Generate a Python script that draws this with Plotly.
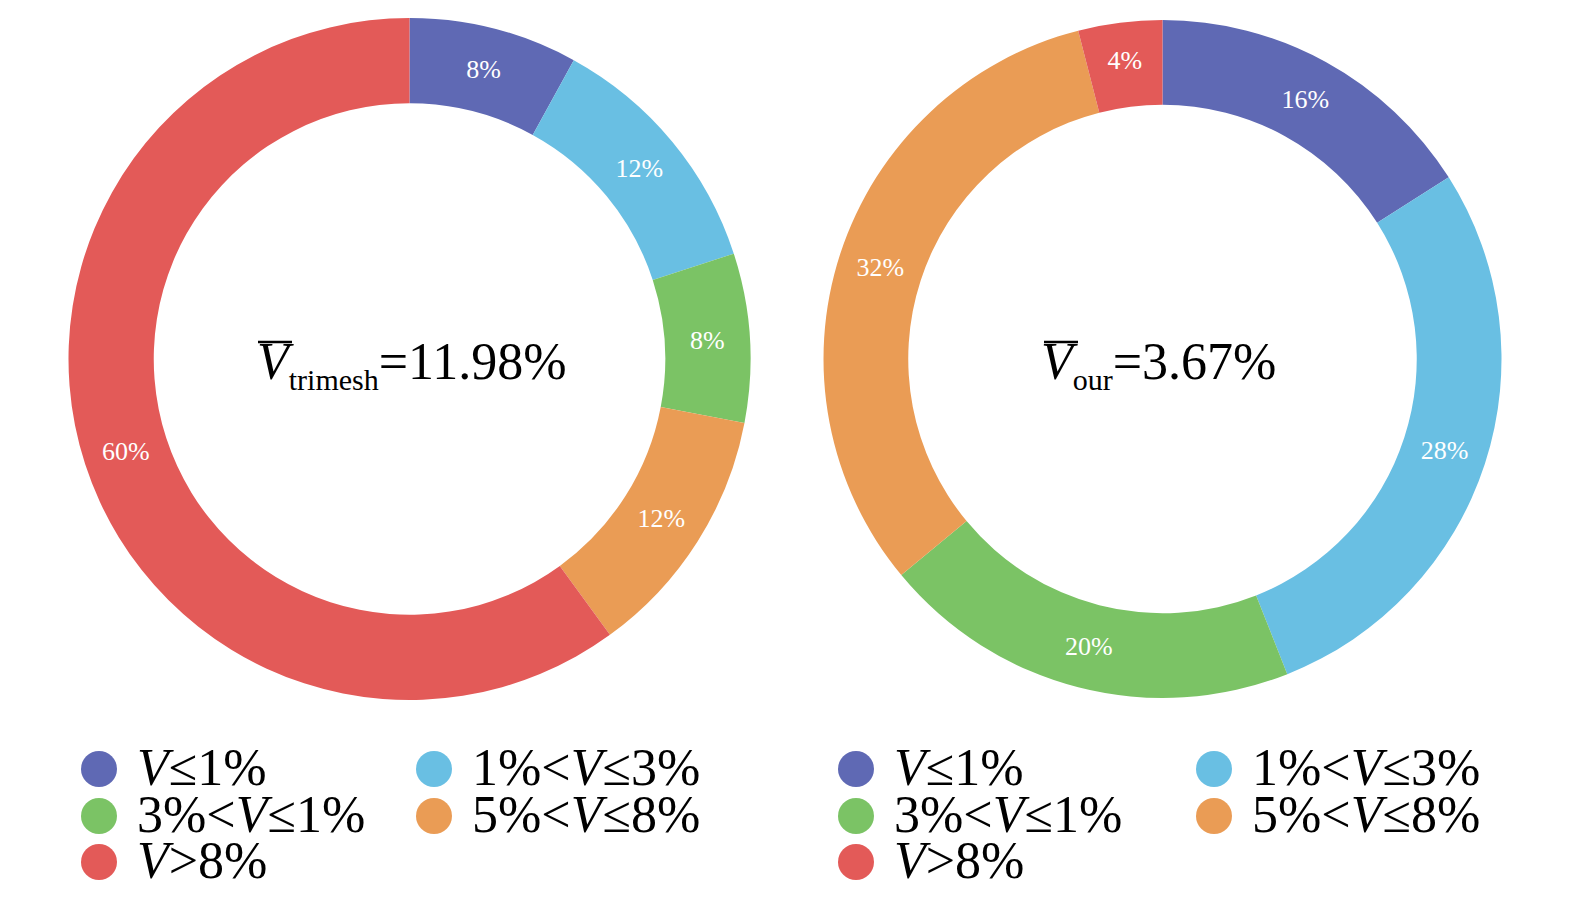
import plotly.graph_objects as go

W, H = 1575, 906
# the page body adds a small offset; axis ranges below compensate for it
OX, OY = 7, 6

classes = ['V≤1%', '1%<V≤3%', '3%<V≤1%', '5%<V≤8%', 'V>8%']
legend_text = ['<i>V</i>≤1%', '1%<<i>V</i>≤3%', '3%<<i>V</i>≤1%', '5%<<i>V</i>≤8%', '<i>V</i>>8%']
colors = ['#5f69b4', '#69bfe3', '#7bc365', '#ea9c55', '#e35a58']

trimesh_share = [8, 12, 8, 12, 60]
our_share = [16, 28, 20, 32, 4]
mean_trimesh = 11.98
mean_our = 3.67

serif = 'Liberation Serif'


def px_dom(x0, x1, y0, y1):
    # pixel box -> paper domain
    return dict(x=[x0 / W, x1 / W], y=[1 - y1 / H, 1 - y0 / H])


def donut(values, dom):
    return go.Pie(
        labels=classes, values=values, sort=False, direction='clockwise',
        rotation=0, hole=0.75, domain=dom,
        marker=dict(colors=colors, line=dict(width=0)),
        texttemplate='%{value}%', textposition='inside',
        insidetextorientation='horizontal',
        textfont=dict(family=serif, size=26, color='white'),
        showlegend=False, hoverinfo='label+percent',
    )


fig = go.Figure()
fig.add_trace(donut(trimesh_share, px_dom(60, 743, 10, 692)))
fig.add_trace(donut(our_share, px_dom(815, 1494, 12, 690)))

# legends: two columns under each donut
leg_x = [[98, 433, 98, 433, 98], [855, 1213, 855, 1213, 855]]
leg_y = [767, 767, 814, 814, 860]
for xs in leg_x:
    fig.add_trace(go.Scatter(
        x=xs, y=leg_y, mode='markers',
        marker=dict(size=36, color=colors, symbol='circle'),
        showlegend=False, hoverinfo='skip', cliponaxis=False,
    ))
    for x, y, t in zip(xs, leg_y, legend_text):
        fig.add_annotation(
            x=x + 36, y=y - 2, xref='x', yref='y', xanchor='left', yanchor='middle',
            showarrow=False, text=t, height=46, valign='middle',
            font=dict(family=serif, size=52, color='black'),
        )

centre = [
    (410, 'trimesh', mean_trimesh),
    (1157, 'our', mean_our),
]
for cx, sub, val in centre:
    fig.add_annotation(
        x=cx, y=362, xref='x', yref='y', showarrow=False,
        text='<i>V</i><sub><span style="font-size:30px">%s</span></sub>=%.2f%%' % (sub, val),
        font=dict(family=serif, size=52, color='black'),
    )

# bars over the V
bar_x = [257, 1043]
for bx in bar_x:
    fig.add_shape(type='line', xref='x', yref='y', x0=bx, x1=bx + 34, y0=340, y1=340,
                  line=dict(color='black', width=2.5))

fig.update_layout(
    width=W, height=H, margin=dict(l=0, r=0, t=0, b=0),
    paper_bgcolor='white', plot_bgcolor='rgba(0,0,0,0)',
    xaxis=dict(range=[OX, W + OX], visible=False, fixedrange=True),
    yaxis=dict(range=[H + OY, OY], visible=False, fixedrange=True),
)

fig.write_html('out.html')
